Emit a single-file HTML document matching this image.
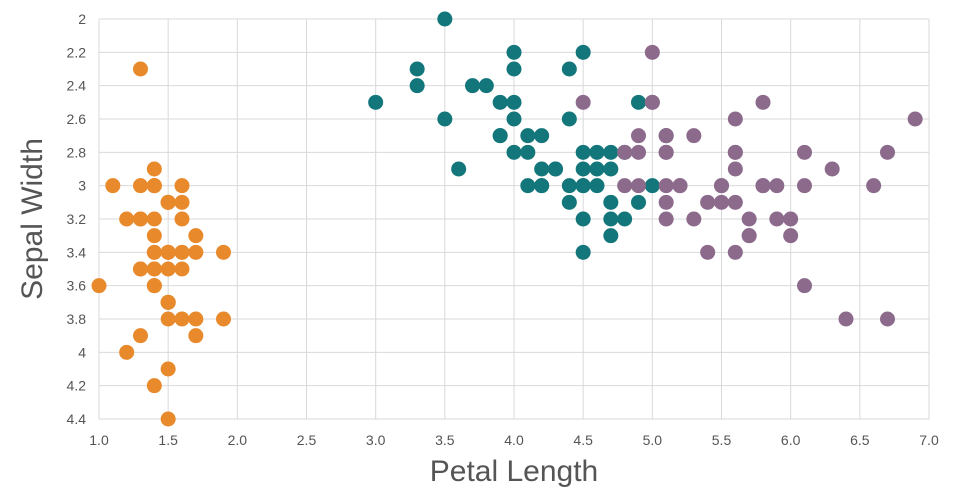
<!DOCTYPE html>
<html><head><meta charset="utf-8"><style>
html,body{margin:0;padding:0;background:#fff;}
svg{display:block;font-family:"Liberation Sans",sans-serif;}
</style></head><body>
<svg id="chart" width="960" height="500">
<g id="grid"></g>
<g id="xticks"></g>
<g id="yticks"></g>
<g id="pts"></g>
<text x="514" y="481" text-anchor="middle" font-size="30" fill="#555">Petal Length</text>
<text transform="translate(42,219) rotate(-90)" text-anchor="middle" font-size="30" fill="#555">Sepal Width</text>
</svg>
<script>
const xTicks=[1.0,1.5,2.0,2.5,3.0,3.5,4.0,4.5,5.0,5.5,6.0,6.5,7.0];
const yTicks=[2,2.2,2.4,2.6,2.8,3,3.2,3.4,3.6,3.8,4,4.2,4.4];
const setosaPL=[1.4,1.4,1.3,1.5,1.4,1.7,1.4,1.5,1.4,1.5,1.5,1.6,1.4,1.1,1.2,1.5,1.3,1.4,1.7,1.5,1.7,1.5,1.0,1.7,1.9,1.6,1.6,1.5,1.4,1.6,1.6,1.5,1.5,1.4,1.5,1.2,1.3,1.4,1.3,1.5,1.3,1.3,1.3,1.6,1.9,1.4,1.6,1.4,1.5,1.4];
const setosaSW=[3.5,3.0,3.2,3.1,3.6,3.9,3.4,3.4,2.9,3.1,3.7,3.4,3.0,3.0,4.0,4.4,3.9,3.5,3.8,3.8,3.4,3.7,3.6,3.3,3.4,3.0,3.4,3.5,3.4,3.2,3.1,3.4,4.1,4.2,3.1,3.2,3.5,3.6,3.0,3.4,3.5,2.3,3.2,3.5,3.8,3.0,3.8,3.2,3.7,3.3];
const versiPL=[4.7,4.5,4.9,4.0,4.6,4.5,4.7,3.3,4.6,3.9,3.5,4.2,4.0,4.7,3.6,4.4,4.5,4.1,4.5,3.9,4.8,4.0,4.9,4.7,4.3,4.4,4.8,5.0,4.5,3.5,3.8,3.7,3.9,5.1,4.5,4.5,4.7,4.4,4.1,4.0,4.4,4.6,4.0,3.3,4.2,4.2,4.2,4.3,3.0,4.1];
const versiSW=[3.2,3.2,3.1,2.3,2.8,2.8,3.3,2.4,2.9,2.7,2.0,3.0,2.2,2.9,2.9,3.1,3.0,2.7,2.2,2.5,3.2,2.8,2.5,2.8,2.9,3.0,2.8,3.0,2.9,2.6,2.4,2.4,2.7,2.7,3.0,3.4,3.1,2.3,3.0,2.5,2.6,3.0,2.6,2.3,2.7,3.0,2.9,2.9,2.5,2.8];
const virgPL=[6.0,5.1,5.9,5.6,5.8,6.6,4.5,6.3,5.8,6.1,5.1,5.3,5.5,5.0,5.1,5.3,5.5,6.7,6.9,5.0,5.7,4.9,6.7,4.9,5.7,6.0,4.8,4.9,5.6,5.8,6.1,6.4,5.6,5.1,5.6,6.1,5.6,5.5,4.8,5.4,5.6,5.1,5.1,5.9,5.7,5.2,5.0,5.2,5.4,5.1];
const virgSW=[3.3,2.7,3.0,2.9,3.0,3.0,2.5,2.9,2.5,3.6,3.2,2.7,3.0,2.5,2.8,3.2,3.0,3.8,2.6,2.2,3.2,2.8,2.8,2.7,3.3,3.2,2.8,3.0,2.8,3.0,2.8,3.8,2.8,2.8,2.6,3.0,3.4,3.1,3.0,3.1,3.1,3.1,2.7,3.2,3.3,3.0,2.5,3.0,3.4,3.0];
const X0=99,X1=929,Y0=19,Y1=419;
const sx=v=>X0+(v-1)/6*(X1-X0);
const sy=v=>Y0+(v-2)/2.4*(Y1-Y0);
const NS="http://www.w3.org/2000/svg";
function mk(t,a,p){const e=document.createElementNS(NS,t);for(const k in a)e.setAttribute(k,a[k]);p.appendChild(e);return e;}
const grid=document.getElementById('grid'),xt=document.getElementById('xticks'),yt=document.getElementById('yticks'),pts=document.getElementById('pts');
xTicks.forEach(v=>{
 const l=mk('line',{x1:sx(v),x2:sx(v),y1:Y0,y2:Y1,stroke:'#d9d9d9','stroke-width':1},grid);
 
 
 const t=mk('text',{x:sx(v),y:445,'text-anchor':'middle','font-size':14,fill:'#555'},xt);
 t.textContent=v.toFixed(1);
 
 
});
yTicks.forEach(v=>{
 const l=mk('line',{x1:X0,x2:X1,y1:sy(v),y2:sy(v),stroke:'#d9d9d9','stroke-width':1},grid);
 
 
 const t=mk('text',{x:86,y:sy(v)+5,'text-anchor':'end','font-size':14,fill:'#555'},yt);
 t.textContent=String(+v.toFixed(1));
 
 
});
function series(px,py,col,name){
 px.forEach((v,i)=>{
  const c=mk('circle',{cx:sx(v),cy:sy(py[i]),r:7.5,fill:col},pts);
  
  
 });
}
series(setosaPL,setosaSW,'#e8892b','setosa');
series(versiPL,versiSW,'#13767a','versicolor');
series(virgPL,virgSW,'#8c6a8c','virginica');
</script>
</body></html>
